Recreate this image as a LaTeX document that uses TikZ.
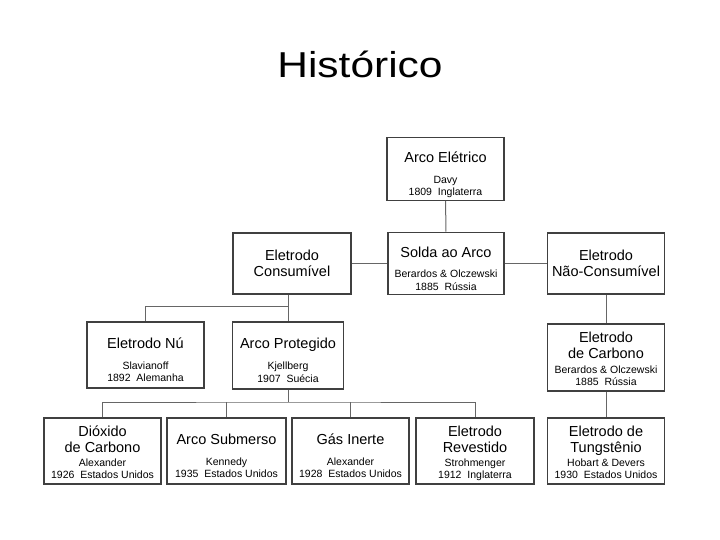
\documentclass[tikz,border=0pt]{standalone}
\usepackage{fontspec}
\setmainfont{Liberation Sans}
\newfontfamily\titulo{Liberation Sans}[FakeStretch=1.18]
\usetikzlibrary{positioning,calc}
\newcommand{\detalhe}{\fontsize{10.5}{12.5}\selectfont}
\newcommand{\dados}[1]{{\detalhe\begin{tabular}[t]{@{}c@{}}#1\end{tabular}}}
\newcommand{\alto}{\rule{0pt}{24pt}}
\newcommand{\medio}{\rule{0pt}{17pt}}
\tikzset{
    caixa/.style={draw=black!75, line width=1.2pt, minimum width=117pt, minimum height=66pt,
        align=center, inner sep=1pt, font=\fontsize{14.5}{16.5}\selectfont},
    liga/.style={draw=black!60, line width=1pt},
}

\begin{document}
\begin{tikzpicture}[x=1pt,y=-1pt]
    \useasboundingbox (0,0) rectangle (720,540);
    \node [font=\titulo\fontsize{36}{40}\selectfont, anchor=base] (titulo) at (360,78) {Histórico};

    % primeira linha
    \node [caixa, minimum height=62pt] (eletrico) at (445.5,169) {\alto Arco Elétrico\\[4pt]\dados{Davy\\1809~~Inglaterra}};
    \node [caixa, minimum width=116pt, minimum height=61pt] (solda) at (446,263.5) {\alto Solda ao Arco\\[4pt]\dados{Berardos \& Olczewski\\1885~~Rússia}};
    \node [caixa, minimum width=118pt, minimum height=61pt] (consumivel) at (292,263.5) {Eletrodo\\Consumível};
    \node [caixa, minimum height=61pt] (naocons) at (606,263.5) {Eletrodo\\Não-Consumível};

    % segunda linha
    \node [caixa] (nu) at (145.5,355) {\alto Eletrodo Nú\\[4.5pt]\dados{Slavianoff\\1892~~Alemanha}};
    \node [caixa, minimum width=111pt, minimum height=67pt] (protegido) at (288,355.5) {\alto Arco Protegido\\[4.5pt]\dados{Kjellberg\\1907~~Suécia}};
    \node [caixa, minimum height=67pt] (carbono) at (606,357.5) {\medio Eletrodo\\de Carbono\\[-2pt]\dados{Berardos \& Olczewski\\1885~~Rússia}};

    % terceira linha
    \node [caixa] (dioxido) at (102.5,451) {\medio Dióxido\\de Carbono\\[-3pt]\dados{Alexander\\1926~~Estados Unidos}};
    \node [caixa, minimum width=119pt] (submerso) at (226.5,451) {\alto Arco Submerso\\[4.5pt]\dados{Kennedy\\1935~~Estados Unidos}};
    \node [caixa] (inerte) at (350.5,451) {\alto Gás Inerte\\[4.5pt]\dados{Alexander\\1928~~Estados Unidos}};
    \node [caixa, minimum width=118pt] (revestido) at (475,451) {\medio Eletrodo\\Revestido\\[-3pt]\dados{Strohmenger\\1912~~Inglaterra}};
    \node [caixa] (tungstenio) at (606,451) {\medio Eletrodo de\\Tungstênio\\[-3pt]\dados{Hobart \& Devers\\1930~~Estados Unidos}};

    \coordinate (bus1) at (288,306);
    \coordinate (bus2) at (288,402);

    \draw [liga] (eletrico) -- (solda);
    \draw [liga] (consumivel) -- (solda);
    \draw [liga] (solda) -- (naocons);
    \draw [liga] (naocons) -- (carbono);
    \draw [liga] (carbono) -- (tungstenio);
    \draw [liga] (bus1 |- consumivel.south) -- (bus1);
    \draw [liga] (nu.north) |- (bus1) -- (protegido.north);
    \draw [liga] (protegido.south) -- (bus2);
    \draw [liga] (dioxido.north) |- (bus2) -| (revestido.north);
    \foreach \n in {submerso, inerte}
        \draw [liga] (\n.north) -- (\n.north |- bus2);
\end{tikzpicture}
\end{document}
